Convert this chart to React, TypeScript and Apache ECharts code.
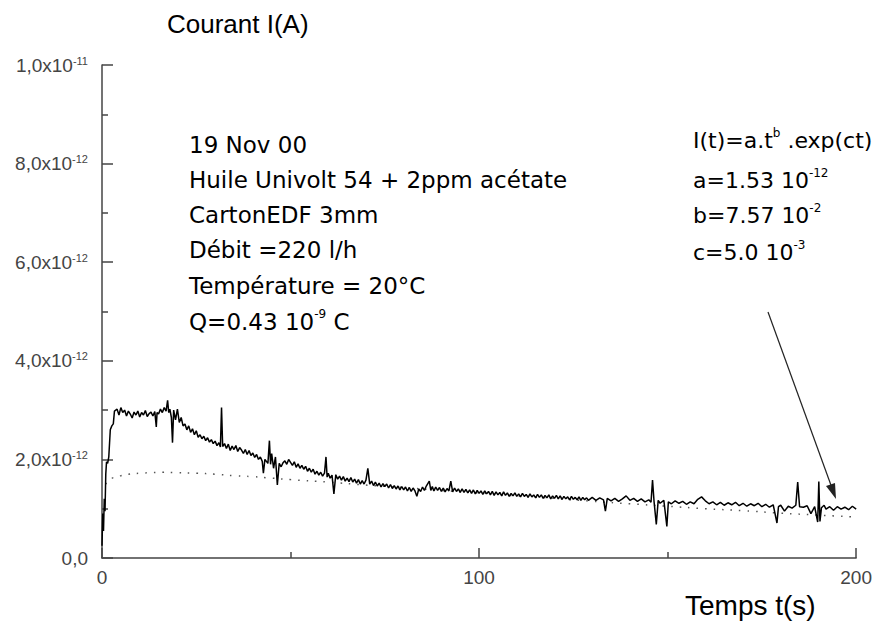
import React, { useEffect, useRef } from "react";
import * as echarts from "echarts";

// Current I(t) in units of 1e-12 A, time in s
const measured: [number, number][] = [
  [0, 0.25], [0.2, 0.9], [0.4, 0.55], [0.6, 1.2], [0.8, 0.95], [1.0, 1.7], [1.2, 1.95], [1.5, 1.92], [1.8, 2.05],
  [2.2, 2.6], [2.6, 2.68], [3.0, 2.72], [3.3, 2.98], [4, 3.02], [4.5, 2.9], [5, 3.05], [5.5, 2.95], [6, 3.0],
  [6.5, 2.88], [7, 2.98], [7.5, 2.92], [8, 2.84], [8.5, 2.96], [9, 2.9], [9.5, 2.98], [10, 2.86], [10.5, 2.95],
  [11, 2.9], [11.5, 2.99], [12, 2.87], [12.5, 2.93], [13, 2.96], [13.5, 2.88], [14, 2.97], [14.4, 2.66], [14.6, 2.95],
  [15, 2.92], [15.5, 3.02], [16, 2.95], [16.5, 3.05], [17, 2.98], [17.4, 3.2], [17.7, 2.95], [18, 3.02], [18.4, 2.85],
  [18.7, 2.34], [19, 3.0], [19.5, 2.8], [20, 3.02], [20.5, 2.75], [21, 2.85], [21.5, 2.68], [22, 2.72], [22.5, 2.6],
  [23, 2.68], [23.5, 2.55], [24, 2.62], [24.5, 2.5], [25, 2.58], [25.5, 2.45], [26, 2.5], [26.5, 2.42], [27, 2.47],
  [27.5, 2.38], [28, 2.44], [28.5, 2.35], [29, 2.4], [29.5, 2.32], [30, 2.37], [30.5, 2.28], [31, 2.34], [31.4, 2.25],
  [31.7, 3.05], [32, 2.26], [32.5, 2.32], [33, 2.22], [33.5, 2.31], [34, 2.18], [34.5, 2.27], [35, 2.2], [35.5, 2.28],
  [36, 2.16], [36.5, 2.24], [37, 2.19], [37.5, 2.12], [38, 2.2], [38.5, 2.1], [39, 2.18], [39.5, 2.08], [40, 2.13],
  [40.5, 2.04], [41, 2.1], [41.5, 2.0], [42, 2.05], [42.5, 1.96], [42.8, 1.72], [43.2, 2.0], [44, 1.92], [44.4, 2.38],
  [44.7, 1.9], [45, 2.12], [45.5, 1.82], [46, 2.05], [46.5, 1.48], [47, 1.92], [47.5, 1.85], [48, 1.93], [48.5, 1.97],
  [49, 1.9], [49.5, 2.0], [50, 1.94], [50.5, 1.88], [51, 1.95], [51.5, 1.84], [52, 1.91], [52.5, 1.82], [53, 1.88],
  [53.5, 1.8], [54, 1.86], [54.5, 1.76], [55, 1.82], [55.5, 1.74], [56, 1.8], [56.5, 1.7], [57, 1.76], [57.5, 1.68],
  [58, 1.74], [58.5, 1.66], [59, 1.72], [59.4, 2.05], [59.7, 1.64], [60, 1.72], [60.5, 1.62], [61, 1.68], [61.5, 1.3],
  [62, 1.69], [62.5, 1.6], [63, 1.66], [63.5, 1.58], [64, 1.65], [64.5, 1.56], [65, 1.62], [65.5, 1.55], [66, 1.63],
  [66.5, 1.54], [67, 1.6], [67.5, 1.52], [68, 1.59], [68.5, 1.5], [69, 1.57], [69.5, 1.5], [70, 1.58], [70.5, 1.82],
  [71, 1.5], [71.5, 1.56], [72, 1.47], [72.5, 1.54], [73, 1.46], [73.5, 1.52], [74, 1.44], [74.5, 1.51], [75, 1.45],
  [75.5, 1.5], [76, 1.42], [76.5, 1.49], [77, 1.41], [77.5, 1.47], [78, 1.4], [78.5, 1.46], [79, 1.38], [79.5, 1.45],
  [80, 1.38], [80.5, 1.44], [81, 1.36], [81.5, 1.43], [82, 1.35], [82.5, 1.42], [83, 1.36], [83.5, 1.25], [84, 1.4],
  [84.5, 1.35], [85, 1.44], [85.5, 1.37], [86, 1.46], [86.8, 1.56], [87.2, 1.37], [87.6, 1.45], [88, 1.36],
  [88.5, 1.44], [89, 1.37], [89.5, 1.43], [90, 1.35], [90.5, 1.42], [91, 1.34], [91.5, 1.41], [92, 1.36], [92.5, 1.56],
  [93, 1.34], [93.5, 1.42], [94, 1.35], [94.5, 1.4], [95, 1.33], [95.5, 1.4], [96, 1.33], [96.5, 1.39], [97, 1.32],
  [97.5, 1.38], [98, 1.31], [98.5, 1.38], [99, 1.3], [99.5, 1.37], [100, 1.31], [100.5, 1.36], [101, 1.29],
  [101.5, 1.36], [102, 1.3], [102.5, 1.35], [103, 1.28], [103.5, 1.35], [104, 1.27], [104.5, 1.34], [105, 1.28],
  [105.5, 1.33], [106, 1.26], [106.5, 1.34], [107, 1.27], [107.5, 1.32], [108, 1.25], [108.5, 1.31], [109, 1.26],
  [109.5, 1.32], [110, 1.25], [110.5, 1.3], [111, 1.24], [111.5, 1.31], [112, 1.25], [112.5, 1.29], [113, 1.23],
  [113.5, 1.3], [114, 1.24], [114.5, 1.28], [115, 1.22], [115.5, 1.29], [116, 1.23], [116.5, 1.28], [117, 1.21],
  [117.5, 1.27], [118, 1.22], [118.5, 1.28], [119, 1.2], [119.5, 1.26], [120, 1.21], [120.5, 1.27], [121, 1.2],
  [121.5, 1.26], [122, 1.19], [122.5, 1.25], [123, 1.2], [123.5, 1.24], [124, 1.18], [124.5, 1.25], [125, 1.19],
  [125.5, 1.23], [126, 1.18], [126.5, 1.24], [127, 1.17], [127.5, 1.23], [128, 1.18], [128.5, 1.22], [129, 1.17],
  [130, 1.23], [131, 1.17], [132, 1.22], [133, 1.18], [133.5, 0.95], [134, 1.21], [135, 1.16], [136, 1.21],
  [137, 1.15], [138, 1.2], [139, 1.26], [140, 1.17], [141, 1.21], [142, 1.15], [143, 1.2], [144, 1.14], [145, 1.18],
  [145.6, 1.13], [146, 1.58], [146.4, 1.15], [147, 0.68], [147.5, 1.17], [148, 1.11], [149, 1.17], [149.8, 0.64],
  [150.2, 1.14], [151, 1.1], [152, 1.16], [153, 1.11], [154, 1.15], [155, 1.09], [156, 1.14], [157, 1.1], [158, 1.19],
  [159, 1.24], [160, 1.16], [161, 1.1], [162, 1.14], [163, 1.08], [164, 1.13], [165, 1.07], [166, 1.12], [167, 1.08],
  [168, 1.13], [169, 1.06], [170, 1.11], [171, 1.05], [172, 1.1], [173, 1.06], [174, 1.11], [175, 1.04], [176, 1.09],
  [177, 1.03], [178, 1.08], [179, 0.71], [179.4, 1.04], [180, 1.07], [181, 0.95], [182, 1.05], [183, 1.01],
  [184, 1.07], [184.5, 1.54], [185, 1.04], [186, 1.03], [187, 1.06], [188, 0.9], [189, 1.04], [189.8, 0.73],
  [190.1, 1.55], [190.4, 0.74], [190.8, 1.02], [191.5, 1.07], [192, 0.99], [193, 1.04], [194, 0.97], [195, 1.04],
  [196, 0.99], [197, 1.03], [198, 0.98], [199, 1.05], [200, 0.99],
];

// Fitted curve I(t)=a.t^b.exp(ct) (1e-12 A)
const fitted: [number, number][] = [
  [1, 1.5], [2, 1.58], [3, 1.63], [5, 1.67], [7, 1.7], [10, 1.72], [13, 1.73], [16, 1.74], [20, 1.73], [25, 1.72],
  [30, 1.7], [35, 1.67], [40, 1.65], [45, 1.62], [50, 1.59], [60, 1.54], [70, 1.48], [80, 1.43], [90, 1.37],
  [100, 1.32], [110, 1.26], [120, 1.21], [130, 1.15], [140, 1.1], [150, 1.05], [160, 1.0], [170, 0.96],
  [180, 0.91], [190, 0.87], [200, 0.83],
];

const yTickValues = [0, 2, 4, 6, 8, 10];
const yTickMantissa = ["0,0", "2,0", "4,0", "6,0", "8,0", "1,0"];
const yTickExponent = ["", "-12", "-12", "-12", "-12", "-11"];

const leftNotes = [
  "{n|19 Nov 00}",
  "{n|Huile Univolt 54 + 2ppm acétate}",
  "{n|CartonEDF 3mm}",
  "{n|Débit =220 l/h}",
  "{n|Température = 20°C}",
  "{n|Q=0.43 10}{s|-9}{n| C}",
];
const rightNotes = [
  "{n|I(t)=a.t}{s|b}{n| .exp(ct)}",
  "{n|a=1.53 10}{s|-12}",
  "{n|b=7.57 10}{s|-2}",
  "{n|c=5.0 10}{s|-3}",
];

const ARIAL = "Liberation Sans";
const WIDE = "DejaVu Sans";

export default function App() {
  const ref = useRef<HTMLDivElement>(null);
  useEffect(() => {
    document.body.style.margin = "0";
    const chart = echarts.init(ref.current!, undefined, { renderer: "svg" });
    const richFor = (size: number) => ({
      n: { fontFamily: WIDE, fontSize: size, lineHeight: size + 4, fill: "#000" },
      s: { fontFamily: WIDE, fontSize: 12, lineHeight: 12, fill: "#000", verticalAlign: "top" },
    });
    const graphics: any[] = [];
    const leftTops = [133, 168, 203, 238, 274, 308];
    leftNotes.forEach((t, i) =>
      graphics.push({ type: "text", left: 189, top: leftTops[i], style: { text: t, rich: richFor(23) } })
    );
    const rightTops = [127, 167, 202, 239];
    rightNotes.forEach((t, i) =>
      graphics.push({ type: "text", left: 693, top: rightTops[i], style: { text: t, rich: richFor(22) } })
    );
    graphics.push(
      { type: "text", left: 167, top: 11, style: { text: "Courant I(A)", font: `26px ${ARIAL}`, fill: "#000" } },
      { type: "text", left: 685, top: 591, style: { text: "Temps t(s)", font: `28px ${ARIAL}`, fill: "#000" } },
      { type: "line", shape: { x1: 768, y1: 312, x2: 832, y2: 488 }, style: { stroke: "#222", lineWidth: 1.2 } },
      { type: "polygon", shape: { points: [[836, 499], [826, 486], [835, 483]] }, style: { fill: "#222" } }
    );

    chart.setOption({
      animation: false,
      backgroundColor: "#fff",
      grid: { left: 102, right: 17, top: 65, bottom: 67 },
      xAxis: {
        type: "value",
        min: 0,
        max: 200,
        interval: 100,
        axisLine: { lineStyle: { color: "#444", width: 1.5 } },
        axisTick: { inside: true, length: 10, lineStyle: { color: "#444", width: 1.5 } },
        minorTick: { show: true, splitNumber: 2, length: 6, lineStyle: { color: "#444", width: 1.5 } },
        splitLine: { show: false },
        axisLabel: { fontFamily: ARIAL, fontSize: 19, color: "#444", margin: 10 },
      },
      yAxis: {
        type: "value",
        min: 0,
        max: 10,
        interval: 2,
        axisLine: { show: true, lineStyle: { color: "#444", width: 1.5 } },
        axisTick: { show: true, inside: true, length: 11, lineStyle: { color: "#444", width: 1.5 } },
        minorTick: { show: true, splitNumber: 2, length: 6, lineStyle: { color: "#444", width: 1.5 } },
        splitLine: { show: false },
        axisLabel: {
          margin: 14,
          fontFamily: ARIAL,
          fontSize: 19,
          color: "#444",
          formatter: (v: number) => {
            const i = yTickValues.indexOf(Math.round(v));
            if (i < 0) return "";
            return yTickExponent[i]
              ? `{m|${yTickMantissa[i]}x10}{s|${yTickExponent[i]}}`
              : `{m|${yTickMantissa[i]}}`;
          },
          rich: {
            m: { fontFamily: ARIAL, fontSize: 19, lineHeight: 20, color: "#444" },
            s: { fontFamily: ARIAL, fontSize: 11, lineHeight: 11, color: "#444", verticalAlign: "top" },
          },
        },
      },
      series: [
        {
          type: "line",
          data: fitted,
          smooth: true,
          showSymbol: false,
          lineStyle: { color: "#555", width: 1.5, type: [1.5, 7] },
          z: 1,
        },
        {
          type: "line",
          data: measured,
          showSymbol: false,
          lineStyle: { color: "#000", width: 1.5 },
          z: 2,
        },
      ],
      graphic: graphics,
    });
    return () => chart.dispose();
  }, []);
  return <div ref={ref} style={{ width: 875, height: 625 }} />;
}
